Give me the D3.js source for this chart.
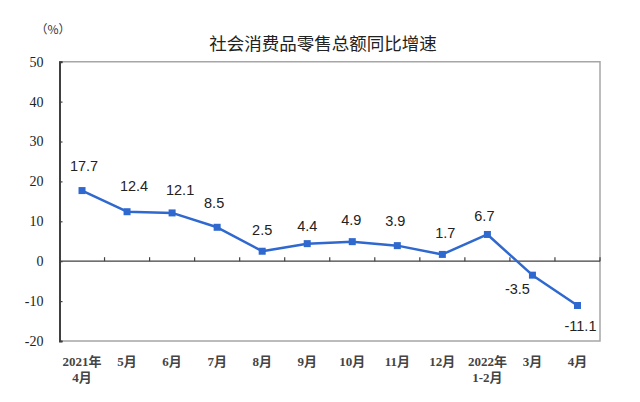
<!DOCTYPE html>
<html><head><meta charset="utf-8">
<script src="https://cdn.jsdelivr.net/npm/d3@7/dist/d3.min.js"></script>
<style>
html,body{margin:0;padding:0;background:#fff;}
svg{display:block;}
</style></head>
<body>
<svg id="chart" width="640" height="402"></svg>
<script>
// ---- data ----
const categories = [["2021年","4月"],["5月"],["6月"],["7月"],["8月"],["9月"],["10月"],["11月"],["12月"],["2022年","1-2月"],["3月"],["4月"]];
const values = [17.7, 12.4, 12.1, 8.5, 2.5, 4.4, 4.9, 3.9, 1.7, 6.7, -3.5, -11.1];
const yTicks = [50, 40, 30, 20, 10, 0, -10, -20];
const title = "社会消费品零售总额同比增速";
const unit = "（%）";

// label placement (layout, not data): [dx, dy] of label centre from point
const labelOffsets = [[2,-25],[7,-26],[8,-23],[-3,-25],[0,-21],[0,-18],[-1,-22],[-2,-25],[3,-22],[-3,-19],[-15,14],[3,20]];

const svg = d3.select("#chart");
const L = 59.5, R = 600, T = 61.7, B = 341;
const x = d3.scaleBand().domain(d3.range(categories.length)).range([L, R]).padding(0);
const y = d3.scaleLinear().domain([-20, 50]).range([B, T]);

const serif = "'Liberation Serif','Times New Roman','Noto Sans CJK SC',serif";
const sans = "'Liberation Sans',Arial,sans-serif";
const fmt = v => d3.format(".1f")(v).replace("\u2212", "-");

// frame: top, right, bottom (light gray)
svg.append("path")
  .attr("d", `M${L},${T}H${R}V${B}H${L}`)
  .attr("fill","none").attr("stroke","#a6a6a6").attr("stroke-width",1.5);

// y axis
const yAxis = d3.axisLeft(y).tickValues(yTicks).tickSize(-3).tickPadding(16).tickFormat(d => String(d));
const gy = svg.append("g").attr("transform",`translate(${L},0)`).call(yAxis);
gy.select(".domain").attr("stroke","#404040").attr("stroke-width",2);
gy.selectAll(".tick line").attr("stroke","#404040").attr("stroke-width",1.2);
gy.selectAll(".tick text").attr("font-family",serif).attr("font-size",14).attr("fill","#222").attr("x",-16);

// x axis at zero, ticks at band boundaries pointing up
const y0 = y(0);
svg.append("line").attr("x1",L).attr("x2",R).attr("y1",y0).attr("y2",y0)
  .attr("stroke","#404040").attr("stroke-width",1.2);
const bounds = d3.range(1, categories.length + 1).map(i => x(i - 1) + x.bandwidth());
svg.append("g").selectAll("line").data(bounds).join("line")
  .attr("x1",d=>d).attr("x2",d=>d).attr("y1",y0).attr("y2",y0-4)
  .attr("stroke","#404040").attr("stroke-width",1.2);

// x labels
const xl = svg.append("g").selectAll("text").data(categories).join("text")
  .attr("x",(d,i)=>x(i)+x.bandwidth()/2)
  .attr("y",366)
  .attr("text-anchor","middle")
  .attr("font-family",serif).attr("font-size",13).attr("font-weight","bold").attr("fill","#444");
xl.each(function(d){
  const t = d3.select(this);
  d.forEach((s,j)=>{
    t.append("tspan").attr("x",t.attr("x")).attr("dy", j===0?0:15.5).text(s);
  });
});

// line
const cx = i => x(i) + x.bandwidth()/2;
const line = d3.line().x((d,i)=>cx(i)).y(d=>y(d)).curve(d3.curveLinear);
const color = "#2f68cf";
svg.append("path").datum(values).attr("d",line)
  .attr("fill","none").attr("stroke",color).attr("stroke-width",2.5).attr("stroke-linejoin","round");

// markers
svg.append("g").selectAll("rect").data(values).join("rect")
  .attr("x",(d,i)=>cx(i)-3.5).attr("y",d=>y(d)-3.5)
  .attr("width",7).attr("height",7).attr("fill",color);

// value labels
svg.append("g").selectAll("text").data(values).join("text")
  .attr("x",(d,i)=>cx(i)+labelOffsets[i][0])
  .attr("y",(d,i)=>y(d)+labelOffsets[i][1])
  .attr("dy","0.36em")
  .attr("text-anchor","middle")
  .attr("font-family",sans).attr("font-size",14.5).attr("fill","#222")
  .text(d=>fmt(d));

// title & unit
svg.append("text").attr("x",323).attr("y",50).attr("text-anchor","middle")
  .attr("font-family","'Noto Sans CJK SC',sans-serif").attr("font-size",17.5).attr("fill","#222").text(title);
svg.append("text").attr("x",53).attr("y",34).attr("text-anchor","middle")
  .attr("font-family","'Noto Sans CJK SC',sans-serif").attr("font-size",12).attr("fill","#333").text(unit);
</script>
</body></html>
